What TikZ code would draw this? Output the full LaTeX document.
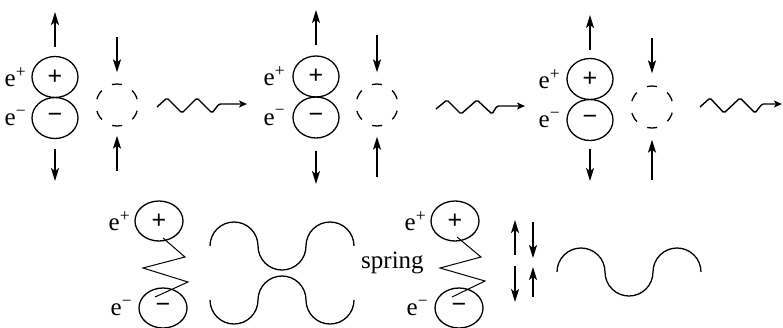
\documentclass[tikz,border=0pt]{standalone}
\usepackage{fontspec}
\setmainfont{Liberation Serif}
\setsansfont{Liberation Sans}
\usetikzlibrary{shapes.geometric,arrows.meta,positioning}

\begin{document}
\begin{tikzpicture}[
    x=1pt, y=-1pt,
    every node/.style={inner sep=0pt},
    charge/.style={
        draw,
        ellipse,
        line width=1.3pt,
        minimum width=46pt,
        minimum height=41pt,
        font=\sffamily\fontsize{25}{25}\selectfont
    },
    small/.style={minimum width=48pt, minimum height=40pt},
    hole/.style={
        draw,
        circle,
        line width=1.3pt,
        minimum size=42pt,
        dash pattern=on 10pt off 12pt,
        dash phase=16pt
    },
    lbl/.style={font=\rmfamily\fontsize{25}{25}\selectfont},
    arrow/.style={-{Stealth[length=13pt,width=8pt,inset=3pt]}, line width=1.6pt},
    ray/.style={-{Stealth[length=8pt,width=7pt,inset=2pt]}, line width=1.4pt, rounded corners=1.5pt},
    coil/.style={line width=1pt},
    swing/.style={line width=1.3pt}
]
\useasboundingbox (0,0) rectangle (783,327);

% Top row: three pairs
\node[charge] (p1) at (55,77) {+};
\node[charge] (m1) at (55,118) {−};
\node[hole] (h1) at (117,105) {};
\node[lbl, left=5pt of p1] (ep1) {e\textsuperscript{+}};
\node[lbl, left=5pt of m1] (em1) {e\textsuperscript{−}};

\node[charge] (p2) at (316,76.5) {+};
\node[charge] (m2) at (316,117.5) {−};
\node[hole] (h2) at (377,105) {};
\node[lbl, left=7pt of p2] (ep2) {e\textsuperscript{+}};
\node[lbl, left=7pt of m2] (em2) {e\textsuperscript{−}};

\node[charge] (p3) at (590,79) {+};
\node[charge] (m3) at (590,120) {−};
\node[hole] (h3) at (652,107) {};
\node[lbl, left=6pt of p3] (ep3) {e\textsuperscript{+}};
\node[lbl, left=6pt of m3] (em3) {e\textsuperscript{−}};

% Arrow ends
\coordinate (t1) at (55,12);   \coordinate (b1) at (55,181);
\coordinate (ht1) at (117,37); \coordinate (hb1) at (117,171);
\coordinate (t2) at (316,10);  \coordinate (b2) at (316,184);
\coordinate (ht2) at (377,35); \coordinate (hb2) at (377,177);
\coordinate (t3) at (590,15);  \coordinate (b3) at (590,181);
\coordinate (ht3) at (652,38); \coordinate (hb3) at (652,180);

% Arrows
\draw[arrow] ([yshift=9pt]p1.north) -- (t1);
\draw[arrow] ([yshift=-10pt]m1.south) -- (b1);
\draw[arrow] (ht1) -- ([yshift=11pt]h1.north);
\draw[arrow] (hb1) -- ([yshift=-9pt]h1.south);

\draw[arrow] ([yshift=10pt]p2.north) -- (t2);
\draw[arrow] ([yshift=-12pt]m2.south) -- (b2);
\draw[arrow] (ht2) -- ([yshift=11pt]h2.north);
\draw[arrow] (hb2) -- ([yshift=-10pt]h2.south);

\draw[arrow] ([yshift=8pt]p3.north) -- (t3);
\draw[arrow] ([yshift=-8pt]m3.south) -- (b3);
\draw[arrow] (ht3) -- ([yshift=12pt]h3.north);
\draw[arrow] (hb3) -- ([yshift=-11pt]h3.south);

% Emitted waves
\coordinate (w1) at (157,107); \coordinate (r1) at (247,104);
\coordinate (w2) at (436,109); \coordinate (r2) at (525,106);
\coordinate (w3) at (700,107); \coordinate (r3) at (782,104);
\draw[ray] (w1) -- ++(10,-9) -- ++(15,15) -- ++(15,-15) -- ++(15,15) -- ++(7,-9) -- (r1);
\draw[ray] (w2) -- ++(11,-9) -- ++(14,14) -- ++(16,-14) -- ++(15,14) -- ++(5,-8) -- (r2);
\draw[ray] (w3) -- ++(10,-9) -- ++(14,15) -- ++(16,-15) -- ++(15,15) -- ++(7,-9) -- (r3);

% Bottom row: pairs on a spring
\node[charge, small] (p4) at (159,221) {+};
\node[charge, small] (m4) at (163,308) {−};
\node[lbl, left=4pt of p4] (ep4) {e\textsuperscript{+}};
\node[lbl, left=6pt of m4] (em4) {e\textsuperscript{−}};
\draw[coil] ([shift={(4,17)}]p4.center) -- (185,257) -- (143,268) -- (188,282) -- ([shift={(-8,-11)}]m4.center);

\coordinate (s1) at (210,246);
\coordinate (s2) at (210,300);
\draw[swing] (s1) arc[start angle=180, end angle=0, radius=24pt]
    arc[start angle=180, end angle=360, radius=24pt]
    arc[start angle=180, end angle=0, radius=24pt];
\draw[swing] (s2) arc[start angle=180, end angle=360, radius=24pt]
    arc[start angle=180, end angle=0, radius=24pt]
    arc[start angle=180, end angle=360, radius=24pt];

\node[font=\rmfamily\fontsize{25}{25}\selectfont, anchor=base west] (spr) at (361,268) {spring};

\node[charge, small] (p5) at (455,221) {+};
\node[charge, small] (m5) at (459,308) {−};
\node[lbl, left=4pt of p5] (ep5) {e\textsuperscript{+}};
\node[lbl, left=6pt of m5] (em5) {e\textsuperscript{−}};
\draw[coil] ([shift={(2,16)}]p5.center) -- (481,257) -- (440,268) -- (485,281) -- ([shift={(-7,-11)}]m5.center);

% Up and down pairs
\coordinate (a1) at (515,255); \coordinate (a2) at (515,220);
\coordinate (a3) at (533,222); \coordinate (a4) at (533,258);
\coordinate (a5) at (515,266); \coordinate (a6) at (515,302);
\coordinate (a7) at (533,297); \coordinate (a8) at (533,267);
\draw[arrow] (a1) -- (a2);
\draw[arrow] (a3) -- (a4);
\draw[arrow] (a5) -- (a6);
\draw[arrow] (a7) -- (a8);

\coordinate (s3) at (557,272);
\draw[swing] (s3) arc[start angle=180, end angle=0, radius=24pt]
    arc[start angle=180, end angle=360, radius=24pt]
    arc[start angle=180, end angle=0, radius=24pt];

\end{tikzpicture}
\end{document}
